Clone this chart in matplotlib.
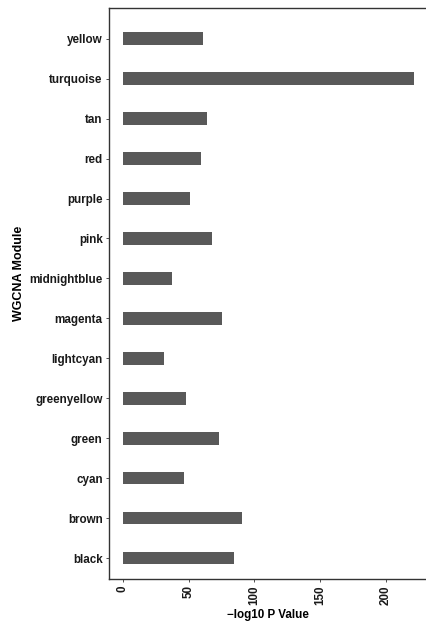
import matplotlib
matplotlib.use("Agg")
import matplotlib.pyplot as plt

# modules listed bottom -> top as drawn
modules = ["black", "brown", "cyan", "green", "greenyellow", "lightcyan",
           "magenta", "midnightblue", "pink", "purple", "red", "tan",
           "turquoise", "yellow"]
neglog10_p = [84.5, 90.6, 46.2, 73.1, 47.7, 31.2,
              75.3, 37.3, 67.7, 51.0, 59.4, 63.9,
              221.5, 60.9]
xticks = [0, 50, 100, 150, 200]

plt.rcParams["font.family"] = ["Liberation Sans", "DejaVu Sans"]

W, H = 426, 624
fig = plt.figure(figsize=(W / 100, H / 100), dpi=100)
left, right, top, bottom = 109, 426, 7.5, 579
ax = fig.add_axes([left / W, 1 - bottom / H, (right - left) / W, (bottom - top) / H])

ypos = list(range(len(modules)))
ax.barh(ypos, neglog10_p, height=0.31, color="#595959")

ax.set_xlim(-10.65, 230.6)
ax.set_ylim(-0.52, 13.78)

fs = 8.4
ax.set_yticks(ypos)
ax.set_yticklabels(modules, fontsize=fs, fontweight="bold", color="#1a1a1a")
ax.set_xticks(xticks)
ax.set_xticklabels([str(v) for v in xticks], fontsize=fs, fontweight="bold",
                   rotation=90, color="#1a1a1a")
ax.tick_params(axis="both", length=2.5, width=0.6, color="#333333", pad=2)

for s in ["left", "bottom", "top"]:
    ax.spines[s].set_linewidth(1.0)
    ax.spines[s].set_color("#333333")
ax.spines["right"].set_visible(False)

ax.set_xlabel("\u2212log10 P Value", fontsize=fs, fontweight="bold", labelpad=3)
ax.set_ylabel("WGCNA Module", fontsize=9, fontweight="bold", va="center")
# title sits a bit above the panel centre in the original
ax.yaxis.set_label_coords((19 - left) / (right - left), (bottom - 273) / (bottom - top))

fig.savefig("out.png", dpi=100)
